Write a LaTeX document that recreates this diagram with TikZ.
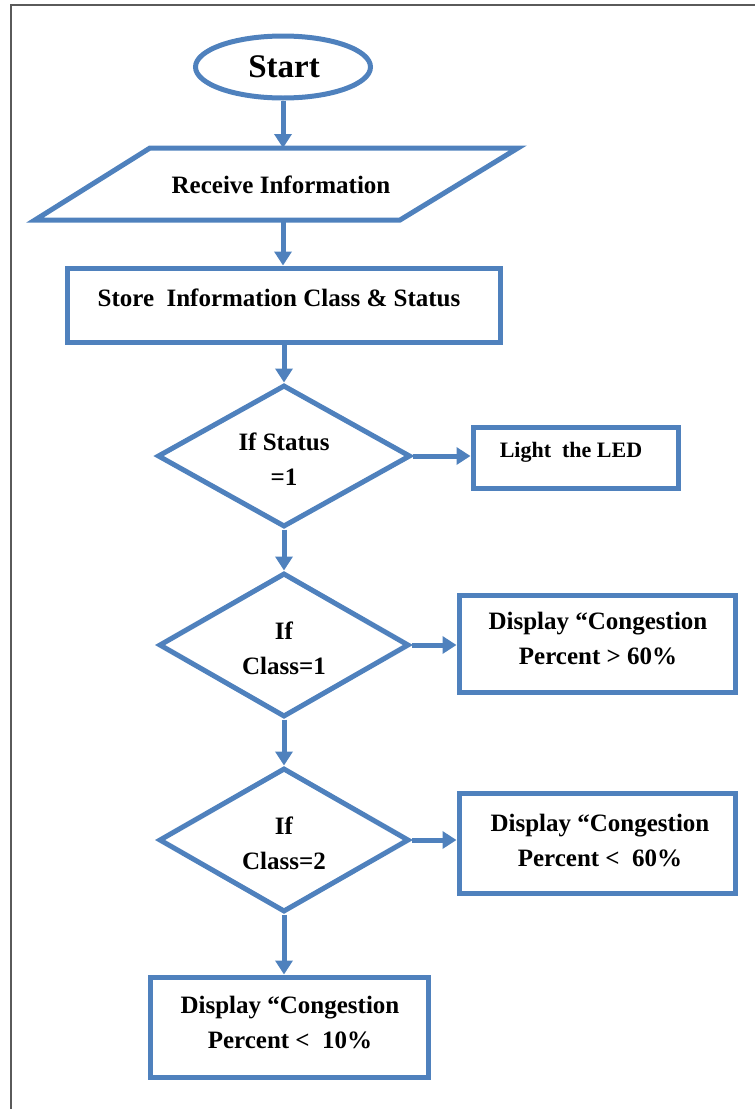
\documentclass[tikz,border=0pt]{standalone}
\usepackage{fontspec}
\setmainfont{Liberation Serif}
\usetikzlibrary{shapes.geometric,arrows.meta}
\definecolor{fblue}{HTML}{4F81BD}
\definecolor{framegray}{HTML}{5A5A5A}
\begin{document}
\begin{tikzpicture}[x=1pt,y=-1pt,
  shapebox/.style={draw=fblue, line width=5pt, inner sep=0pt, fill=white},
  conn/.style={draw=fblue, line width=5pt, -{Triangle[width=17pt,length=14pt]}},
  lbl/.style={font=\bfseries\fontsize{25}{35}\selectfont, align=center, inner sep=0pt},
  small/.style={font=\bfseries\fontsize{22}{25}\selectfont, inner sep=0pt}]
\useasboundingbox (0,0) rectangle (755,1109);
\draw[framegray, line width=2pt] (755,5) -- (11,5) -- (11,1109);

% Start
\node[shapebox, ellipse, minimum width=175pt, minimum height=62pt] (start) at (283,67) {};
\node[lbl, font=\bfseries\fontsize{33}{38}\selectfont] (starttxt) at (284,67) {Start};

% Receive information (parallelogram)
\draw[fblue, line width=5pt, line join=miter] (150,148) -- (518,148) -- (400,220) -- (35,220) -- cycle;
\coordinate (recvtop) at (283,148);
\coordinate (recvbot) at (283,220);
\node[lbl] (recv) at (281,185) {Receive Information};

% Store
\node[shapebox, minimum width=433pt, minimum height=74pt] (store) at (283.5,305) {};
\node[lbl] (storetxt) at (279,298) {Store~ Information Class \& Status};

% Decision 1
\node[shapebox, diamond, minimum width=253pt, minimum height=142pt] (d1) at (284,456) {};
\node[lbl] (d1txt) at (284,459) {If Status\\=1};
\node[shapebox, minimum width=205pt, minimum height=61pt] (light) at (575.5,457.5) {};
\node[small] (lighttxt) at (571,452) {Light~ the LED};

% Decision 2
\node[shapebox, diamond, minimum width=250pt, minimum height=144pt] (d2) at (284,645) {};
\node[lbl] (d2txt) at (284,648) {If\\Class=1};
\node[shapebox, minimum width=276pt, minimum height=97pt] (box2) at (597,643.5) {};
\node[lbl] (box2txt) at (598,638) {Display “Congestion\\Percent > 60\%};

% Decision 3
\node[shapebox, diamond, minimum width=250pt, minimum height=144pt] (d3) at (284,840) {};
\node[lbl] (d3txt) at (284,843) {If\\Class=2};
\node[shapebox, minimum width=276pt, minimum height=100pt] (box3) at (597,843) {};
\node[lbl] (box3txt) at (600,840) {Display “Congestion\\Percent <~ 60\%};

% Final box
\node[shapebox, minimum width=278pt, minimum height=100pt] (box4) at (289,1027) {};
\node[lbl] (box4txt) at (290,1022) {Display “Congestion\\Percent <~ 10\%};

% Connectors
\draw[conn] (start.south) -- (recvtop);
\draw[conn] (recvbot) -- (recvbot |- store.north);
\draw[conn] (store.south -| d1.north) -- (d1.north);
\draw[conn] (d1.east) -- (d1.east -| light.west);
\draw[conn] (d1.south) -- (d1.south |- d2.north);
\draw[conn] (d2.east) -- (d2.east -| box2.west);
\draw[conn] (d2.south) -- (d3.north);
\draw[conn] (d3.east) -- (d3.east -| box3.west);
\draw[conn] (d3.south) -- (d3.south |- box4.north);
\end{tikzpicture}
\end{document}
